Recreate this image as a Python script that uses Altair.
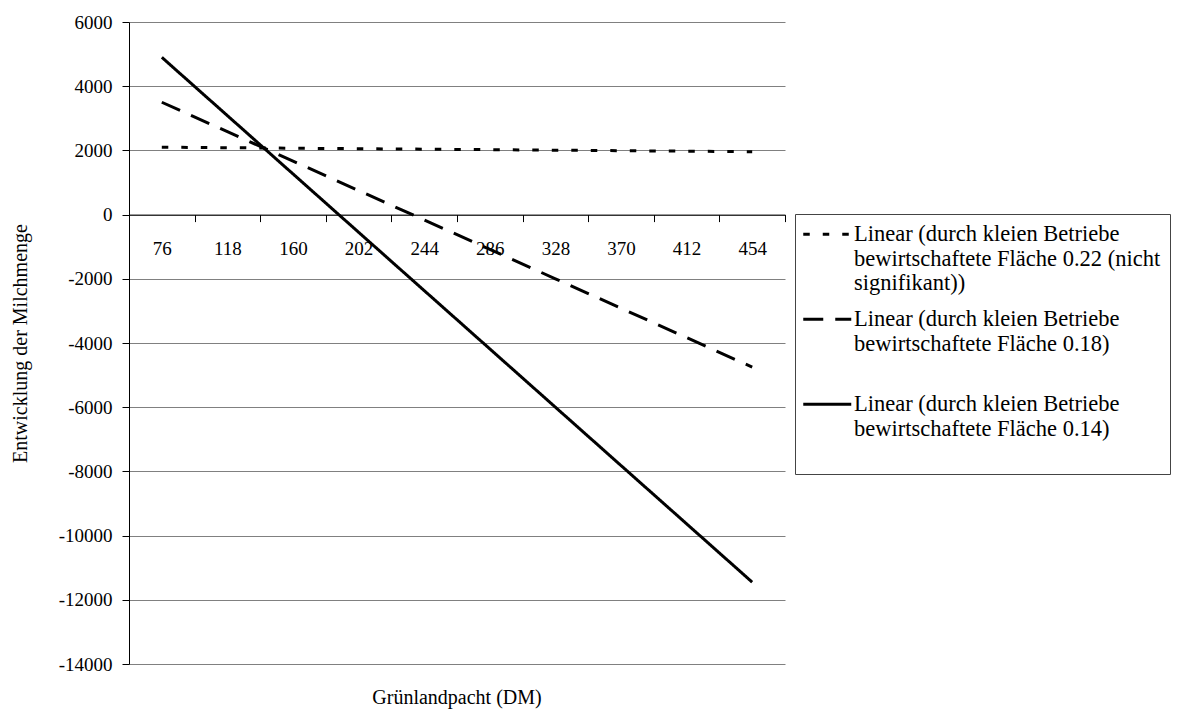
import altair as alt
import pandas as pd

# ---- data ----
categories = ["76", "118", "160", "202", "244", "286", "328", "370", "412", "454"]

series_names = [
    "Linear (durch kleien Betriebe|bewirtschaftete Fläche 0.22 (nicht|signifikant))",
    "Linear (durch kleien Betriebe|bewirtschaftete Fläche 0.18)| ",
    "Linear (durch kleien Betriebe|bewirtschaftete Fläche 0.14)| ",
]

dotted_values = [2100, 2084, 2069, 2053, 2038, 2022, 2007, 1991, 1976, 1960]
dashed_values = [3500, 2583, 1667, 750, -167, -1083, -2000, -2917, -3833, -4750]
solid_values = [4900, 3083, 1267, -550, -2367, -4183, -6000, -7817, -9633, -11450]

y_ticks = [6000, 4000, 2000, 0, -2000, -4000, -6000, -8000, -10000, -12000, -14000]
y_domain = [-14000, 6000]

x_title = "Grünlandpacht (DM)"
y_title = "Entwicklung der Milchmenge"

rows = []
for name, vals in zip(series_names, [dotted_values, dashed_values, solid_values]):
    for c, v in zip(categories, vals):
        rows.append({"Grünlandpacht": c, "Wert": v, "Serie": name})
df = pd.DataFrame(rows)

W, H = 656, 642
FONT = "Liberation Serif"
# axis crosses at value 0
zero_offset = -H * (0 - y_domain[0]) / (y_domain[1] - y_domain[0])

chart = (
    alt.Chart(df)
    .mark_line(color="black", strokeWidth=3, strokeCap="butt")
    .encode(
        x=alt.X(
            "Grünlandpacht:N",
            sort=categories,
            bandPosition=0.5,
            scale=alt.Scale(type="band", domain=categories, paddingInner=0, paddingOuter=0),
            axis=alt.Axis(
                title=None,
                offset=zero_offset,
                labelAngle=0,
                tickBand="extent",
                grid=False,
                domainColor="black",
                tickColor="black",
                tickSize=7,
                labelPadding=18,
                labelFont=FONT,
                labelFontSize=19,
                labelColor="black",
            ),
        ),
        y=alt.Y(
            "Wert:Q",
            scale=alt.Scale(domain=y_domain, nice=False, zero=False),
            axis=alt.Axis(
                title=y_title,
                values=y_ticks,
                labelExpr="'' + datum.value",
                grid=True,
                gridColor="#808080",
                gridWidth=1,
                domainColor="black",
                tickColor="black",
                tickSize=7,
                labelPadding=10,
                labelFont=FONT,
                labelFontSize=19,
                labelColor="black",
                titleFont=FONT,
                titleFontSize=20,
                titleFontWeight="normal",
                titleColor="black",
                titlePadding=28,
            ),
        ),
        strokeDash=alt.StrokeDash(
            "Serie:N",
            sort=series_names,
            scale=alt.Scale(domain=series_names, range=[[6.5, 13], [20, 12], [1, 0]]),
            legend=alt.Legend(
                title=None,
                orient="none",
                legendX=666,
                legendY=192,
                strokeColor="#444444",
                fillColor="white",
                padding=9,
                symbolType="M-2,0H6",
                symbolSize=144,
                symbolStrokeWidth=3,
                symbolStrokeColor="black",
                symbolFillColor="transparent",
                labelExpr="split(datum.label, '|')",
                labelFont=FONT,
                labelFontSize=22.5,
                labelLimit=500,
                labelOffset=27.5,
                labelColor="black",
                rowPadding=13,
            ),
        ),
    )
    .properties(
        width=W,
        height=H,
        padding={"left": 2, "top": 5, "right": 2, "bottom": 5},
        title=alt.TitleParams(
            x_title,
            orient="bottom",
            anchor="middle",
            frame="group",
            font=FONT,
            fontSize=20,
            fontWeight="normal",
            color="black",
            offset=14,
        ),
    )
    .configure_view(stroke=None)
)

chart.save("out.html", embed_options={"renderer": "svg", "actions": False})
